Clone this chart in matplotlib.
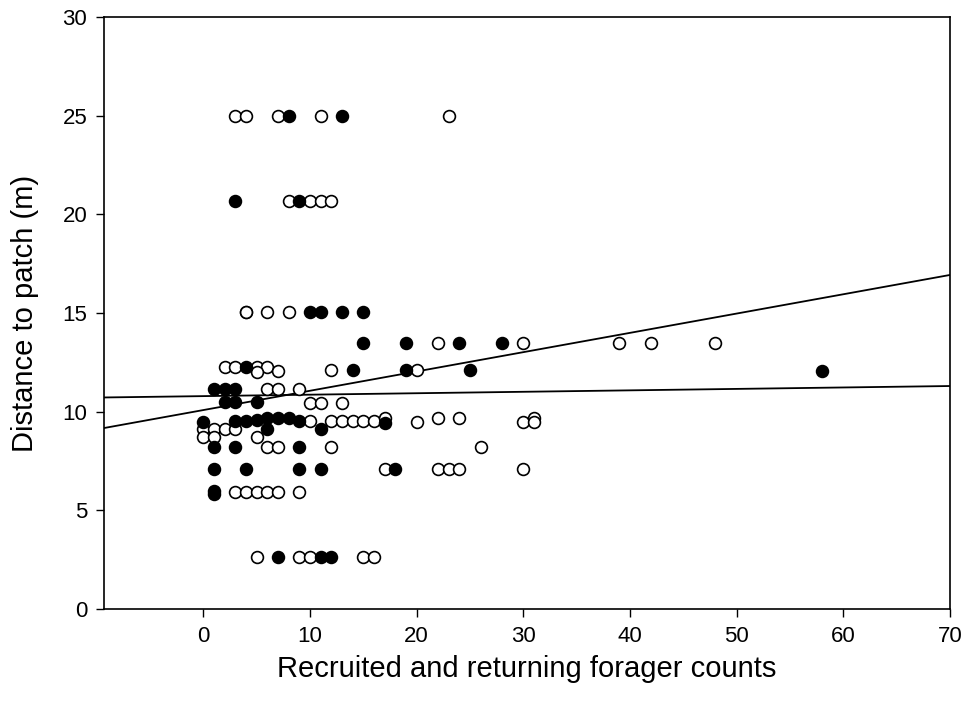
import matplotlib
matplotlib.use("Agg")
import matplotlib.pyplot as plt

plt.rcParams['font.family'] = ['Liberation Sans', 'DejaVu Sans']

# Open-circle series (x = forager counts, y = distance m)
open_x = [3, 4, 7, 11, 23,
          8, 10, 11, 12,
          4, 4, 6, 8,
          22, 30, 39, 42, 48,
          2, 3, 5, 6, 7, 5, 12, 20,
          6, 7, 9,
          10, 11, 13,
          10, 12, 13, 14, 15, 16, 17, 20, 22, 24, 30, 31, 31,
          0, 1, 2, 3,
          0, 1, 5,
          6, 7, 12, 26,
          17, 22, 23, 24, 30,
          3, 4, 5, 6, 7, 9,
          5, 9, 10, 15, 16]
open_y = [25.0, 25.0, 25.0, 25.0, 25.0,
          20.7, 20.7, 20.7, 20.7,
          15.05, 15.05, 15.05, 15.05,
          13.5, 13.5, 13.5, 13.5, 13.5,
          12.25, 12.25, 12.25, 12.25, 12.05, 12.0, 12.1, 12.1,
          11.15, 11.15, 11.15,
          10.45, 10.45, 10.45,
          9.55, 9.55, 9.55, 9.55, 9.55, 9.55, 9.7, 9.5, 9.7, 9.7, 9.5, 9.7, 9.5,
          9.1, 9.1, 9.1, 9.1,
          8.7, 8.7, 8.7,
          8.2, 8.2, 8.2, 8.2,
          7.1, 7.1, 7.1, 7.1, 7.1,
          5.95, 5.95, 5.95, 5.95, 5.95, 5.95,
          2.65, 2.65, 2.65, 2.65, 2.65]

# Filled-circle series
filled_x = [8, 13,
            3, 9,
            10, 11, 13, 15,
            15, 19, 24, 28,
            4, 14, 19, 25, 58,
            1, 2, 3,
            2, 3, 5,
            0, 3, 4, 5, 6, 7, 8, 9, 17,
            6, 11,
            1, 3, 9,
            1, 4, 9, 11, 18,
            1, 1,
            7, 11, 12]
filled_y = [25.0, 25.0,
            20.7, 20.7,
            15.05, 15.05, 15.05, 15.05,
            13.5, 13.5, 13.5, 13.5,
            12.25, 12.1, 12.1, 12.1, 12.05,
            11.15, 11.15, 11.15,
            10.5, 10.5, 10.5,
            9.5, 9.55, 9.55, 9.6, 9.7, 9.7, 9.7, 9.55, 9.45,
            9.1, 9.1,
            8.2, 8.2, 8.2,
            7.1, 7.1, 7.1, 7.1, 7.1,
            5.85, 6.0,
            2.65, 2.65, 2.65]

# Regression lines (end points)
line_x = [-9.3, 70]
line_steep_y = [9.17, 16.93]
line_flat_y = [10.72, 11.30]

x_ticks = [0, 10, 20, 30, 40, 50, 60, 70]
y_ticks = [0, 5, 10, 15, 20, 25, 30]

fig = plt.figure(figsize=(9.67, 7.11), dpi=100)
ax = fig.add_axes([0.1075, 0.1435, 0.875, 0.8325])

ax.plot(line_x, line_steep_y, color='black', lw=1.3, zorder=2)
ax.plot(line_x, line_flat_y, color='black', lw=1.3, zorder=2)

ax.plot(open_x, open_y, 'o', ms=8.5, mfc='white', mec='black', mew=1.2,
        linestyle='none', zorder=3)
ax.plot(filled_x, filled_y, 'o', ms=8.5, mfc='black', mec='black', mew=1.2,
        linestyle='none', zorder=4)

ax.set_xlim(-9.3, 70)
ax.set_ylim(0, 30)
ax.set_xticks(x_ticks)
ax.set_yticks(y_ticks)
ax.tick_params(direction='out', length=6, width=1, labelsize=16, pad=6)
for s in ax.spines.values():
    s.set_linewidth(1.2)

ax.set_xlabel('Recruited and returning forager counts', fontsize=21, labelpad=6)
ax.set_ylabel('Distance to patch (m)', fontsize=21, labelpad=17)

fig.savefig('out.png', dpi=100)
